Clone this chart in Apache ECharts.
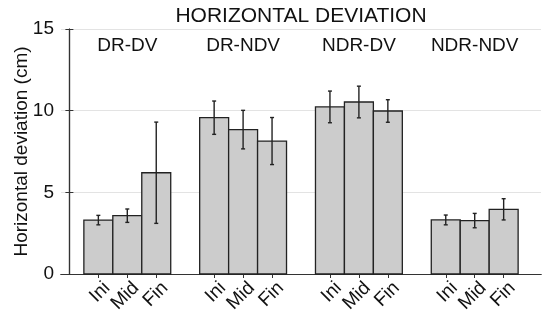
<!DOCTYPE html>
<html><head><meta charset="utf-8">
<script src="https://cdn.jsdelivr.net/npm/echarts@6/dist/echarts.min.js"></script>
<style>html,body{margin:0;padding:0;background:#fff}#c{width:550px;height:323px}</style>
</head><body><div id="c"></div>
<script>
const title = 'HORIZONTAL DEVIATION';
const yName = 'Horizontal deviation (cm)';
const groups = ['DR-DV', 'DR-NDV', 'NDR-DV', 'NDR-NDV'];
const phases = ['Ini', 'Mid', 'Fin'];
const means = [3.30, 3.57, 6.20, 9.57, 8.84, 8.14, 10.23, 10.53, 9.98, 3.31, 3.27, 3.96];
const errs  = [0.29, 0.41, 3.10, 1.02, 1.18, 1.44, 0.97, 0.97, 0.69, 0.30, 0.44, 0.65];
const yTicks = [0, 5, 10, 15];

const FONT = '"Liberation Sans", Arial, Helvetica, sans-serif';
const AX = '#333333';
const LABEL_SHIFT = 0.3;
const positions = [];
const barData = [];
groups.forEach((g, gi) => phases.forEach((p, pi) => {
  const x = gi * 4 + pi + 1;
  positions.push(x);
  const i = gi * 3 + pi;
  barData.push([x, means[i], errs[i]]);
}));
const labelPositions = positions.map(x => x + LABEL_SHIFT);
const groupData = groups.map((g, gi) => [gi * 4 + 2, 14, g]);

const chart = echarts.init(document.getElementById('c'));
const xCommon = {
  type: 'value', min: -0.29, max: 16.29,
  axisLine: { show: true, lineStyle: { color: AX, width: 1.2 } },
  splitLine: { show: false },
  axisTick: { show: true, inside: true, length: 4, customValues: positions, lineStyle: { color: AX } }
};
chart.setOption({
  animation: false,
  grid: { left: 61, right: 9, top: 29, bottom: 49, containLabel: false, outerBoundsMode: 'none' },
  xAxis: [
    Object.assign({}, xCommon, {
      position: 'bottom',
      axisLabel: {
        customValues: labelPositions, rotate: 45, fontSize: 19, color: '#111', fontFamily: FONT, margin: 11,
        formatter: v => phases[(Math.round(v - LABEL_SHIFT) - 1) % 4]
      }
    }),
    Object.assign({}, xCommon, {
      position: 'top',
      axisLabel: { show: false },
      name: title, nameLocation: 'middle', nameGap: 2, nameMoveOverlap: false,
      nameTextStyle: { fontSize: 21, color: '#111', fontFamily: FONT, verticalAlign: 'bottom' }
    })
  ],
  yAxis: [
    {
      type: 'value', min: 0, max: 15, interval: 5, position: 'left',
      axisLine: { show: true, lineStyle: { color: AX, width: 1.2 } },
      axisTick: { show: true, inside: true, length: 4, lineStyle: { color: AX } },
      axisLabel: { fontSize: 19, color: '#111', fontFamily: FONT, margin: 7, formatter: v => yTicks.includes(v) ? String(v) : '' },
      splitLine: { show: true, lineStyle: { color: '#e3e3e3', width: 1 } },
      name: yName, nameLocation: 'middle', nameGap: 30, nameRotate: 90, nameMoveOverlap: false,
      nameTextStyle: { fontSize: 19, color: '#111', fontFamily: FONT }
    },
    {
      type: 'value', min: 0, max: 15, interval: 5, position: 'right',
      axisLine: { show: true, lineStyle: { color: AX, width: 1.2 } },
      axisTick: { show: true, inside: true, length: 4, lineStyle: { color: AX } },
      axisLabel: { show: false }, splitLine: { show: false }
    }
  ],
  series: [
    {
      type: 'custom', xAxisIndex: 0, yAxisIndex: 0, data: barData, z: 2,
      renderItem: (params, api) => {
        const x = api.value(0), y = api.value(1);
        const p1 = api.coord([x - 0.5, y]);
        const p2 = api.coord([x + 0.5, 0]);
        return { type: 'rect', shape: { x: p1[0], y: p1[1], width: p2[0] - p1[0], height: p2[1] - p1[1] },
          style: { fill: '#cccccc', stroke: '#222222', lineWidth: 1.3 } };
      }
    },
    {
      type: 'custom', xAxisIndex: 0, yAxisIndex: 0, data: barData, z: 3,
      renderItem: (params, api) => {
        const x = api.value(0), y = api.value(1), e = api.value(2);
        const top = api.coord([x, y + e]);
        const bot = api.coord([x, y - e]);
        const st = { stroke: '#222222', lineWidth: 1.4 };
        const c = 2;
        return { type: 'group', children: [
          { type: 'line', shape: { x1: top[0], y1: top[1], x2: bot[0], y2: bot[1] }, style: st },
          { type: 'line', shape: { x1: top[0] - c, y1: top[1], x2: top[0] + c, y2: top[1] }, style: st },
          { type: 'line', shape: { x1: bot[0] - c, y1: bot[1], x2: bot[0] + c, y2: bot[1] }, style: st }
        ] };
      }
    },
    {
      type: 'custom', xAxisIndex: 0, yAxisIndex: 0, data: groupData, z: 4,
      renderItem: (params, api) => {
        const p = api.coord([api.value(0), api.value(1)]);
        return { type: 'text', x: p[0], y: p[1],
          style: { text: groupData[params.dataIndex][2], fontSize: 19, fontFamily: FONT, fill: '#111', align: 'center', verticalAlign: 'middle' } };
      }
    }
  ]
});
</script>
</body></html>
